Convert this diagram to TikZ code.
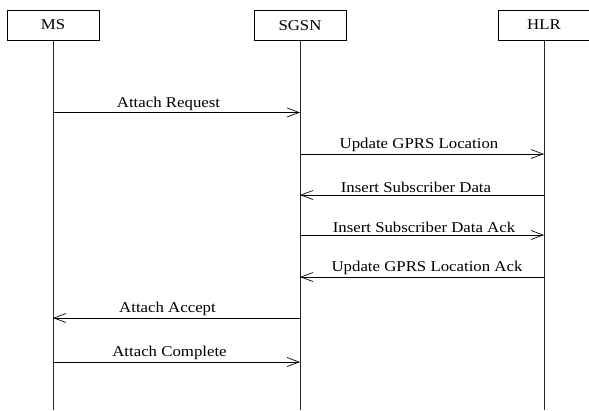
\documentclass[tikz,border=0pt]{standalone}
\usepackage{fontspec}
\setmainfont{Liberation Serif}[FakeStretch=1.12]
\usetikzlibrary{arrows.meta}
\begin{document}
\begin{tikzpicture}[x=1pt,y=-1pt,
  ent/.style={draw,line width=0.8pt,minimum width=92pt,minimum height=30pt,inner sep=0pt,font=\fontsize{15}{17}\selectfont},
  life/.style={line width=0.8pt,draw=black!85},
  msg/.style={line width=0.8pt,-{Straight Barb[length=12pt,width=9pt,line width=0.7pt]}},
  lbl/.style={above,inner sep=1.5pt,font=\fontsize{15}{17}\selectfont}]
\useasboundingbox (0,0) rectangle (589,410);
\node[ent] (ms) at (53,25) {MS};
\node[ent] (sgsn) at (300,25.5) {SGSN};
\node[ent] (hlr) at (544,25) {HLR};
\coordinate (msE) at (ms.south |- 0,410);
\coordinate (sgE) at (sgsn.south |- 0,410);
\coordinate (hlE) at (hlr.south |- 0,410);
\draw[life] (ms.south) -- (msE);
\draw[life] (sgsn.south) -- (sgE);
\draw[life] (hlr.south) -- (hlE);
% message anchor points
\foreach \n/\y in {a/112.5,b/154,c/195,d/235,e/277,f/318,g/362}{
  \coordinate (m\n) at (ms.south |- 0,\y);
  \coordinate (s\n) at (sgsn.south |- 0,\y);
  \coordinate (h\n) at (hlr.south |- 0,\y);
}
\draw[msg] (ma) -- node[lbl,xshift=-8pt] {Attach Request} (sa);
\draw[msg] (sb) -- node[lbl,xshift=-3pt] {Update GPRS Location} (hb);
\draw[msg] (hc) -- node[lbl,xshift=-6pt] {Insert Subscriber Data} (sc);
\draw[msg] (sd) -- node[lbl,xshift=2pt] {Insert Subscriber Data Ack} (hd);
\draw[msg] (he) -- node[lbl,xshift=5pt] {Update GPRS Location Ack} (se);
\draw[msg] (sf) -- node[lbl,xshift=-9pt] {Attach Accept} (mf);
\draw[msg] (mg) -- node[lbl,xshift=-7pt] {Attach Complete} (sg);
\end{tikzpicture}
\end{document}
